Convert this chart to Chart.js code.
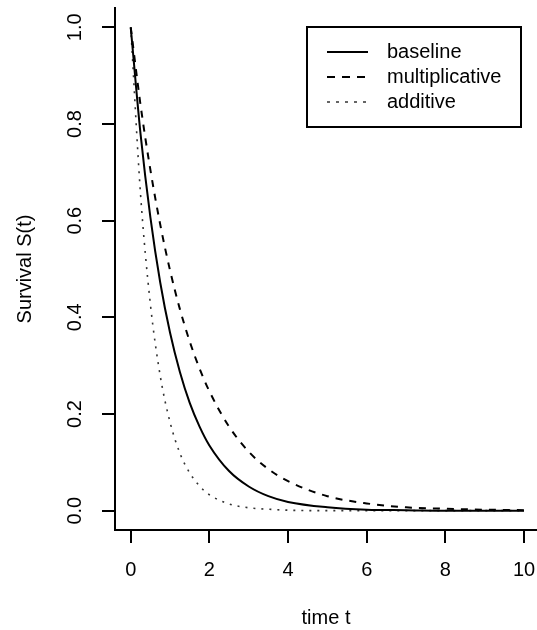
<!DOCTYPE html>
<html>
<head>
<meta charset="utf-8">
<script src="https://cdn.jsdelivr.net/npm/chart.js@4/dist/chart.umd.min.js"></script>
<style>
  html, body { margin: 0; padding: 0; background: #fff; overflow: hidden; }
  #wrap { width: 537px; height: 630px; }
</style>
</head>
<body>
<div id="wrap"><canvas id="chart"></canvas></div>
<script>
const FONT = "'Liberation Sans', Arial, sans-serif";

// time points and survival values
const timeT = [0, 0.25, 0.5, 0.75, 1, 1.25, 1.5, 1.75, 2, 2.5, 3, 3.5, 4, 5, 6, 7, 8, 9, 10];
const baseline = [1, 0.779, 0.607, 0.472, 0.368, 0.287, 0.223, 0.174, 0.135, 0.082, 0.05, 0.03, 0.018, 0.007, 0.002, 0.001, 0, 0, 0];
const multiplicative = [1, 0.839, 0.705, 0.592, 0.497, 0.417, 0.35, 0.294, 0.247, 0.174, 0.122, 0.086, 0.061, 0.03, 0.015, 0.007, 0.004, 0.002, 0.001];
const additive = [1, 0.654, 0.427, 0.279, 0.183, 0.119, 0.078, 0.051, 0.033, 0.014, 0.006, 0.003, 0.001, 0, 0, 0, 0, 0, 0];

const xTicks = [0, 2, 4, 6, 8, 10];
const yTicks = [0, 0.2, 0.4, 0.6, 0.8, 1];
const yTickLabels = ["0.0", "0.2", "0.4", "0.6", "0.8", "1.0"];

function points(ys) {
  return timeT.map((t, i) => ({ x: t, y: ys[i] }));
}

const series = [
  { label: "baseline", data: baseline, dash: [], width: 2, color: "#000" },
  { label: "multiplicative", data: multiplicative, dash: [7, 7], width: 2, color: "#000" },
  { label: "additive", data: additive, dash: [2, 6], width: 1.6, color: "#333" },
];

// y tick labels are drawn rotated, like R does
const rotatedYLabels = {
  id: "rotatedYLabels",
  afterDraw(chart) {
    const ctx = chart.ctx;
    const y = chart.scales.y;
    ctx.save();
    ctx.fillStyle = "#000";
    ctx.font = "20px " + FONT;
    ctx.textAlign = "center";
    ctx.textBaseline = "middle";
    yTicks.forEach((v, i) => {
      ctx.save();
      ctx.translate(75, y.getPixelForValue(v));
      ctx.rotate(-Math.PI / 2);
      ctx.fillText(yTickLabels[i], 0, 0);
      ctx.restore();
    });
    ctx.restore();
  }
};

// boxed legend in the top right corner
const boxLegend = {
  id: "boxLegend",
  afterDraw(chart) {
    const ctx = chart.ctx;
    ctx.save();
    ctx.strokeStyle = "#000";
    ctx.lineWidth = 2;
    ctx.strokeRect(307, 27, 214, 100);
    ctx.font = "20px " + FONT;
    ctx.textBaseline = "middle";
    ctx.fillStyle = "#000";
    series.forEach((s, i) => {
      const yy = 52 + i * 25;
      ctx.beginPath();
      ctx.setLineDash(s.dash.length ? [s.dash[0] + 1, s.dash[1]] : []);
      ctx.lineWidth = s.width;
      ctx.strokeStyle = s.color;
      ctx.moveTo(327, yy);
      ctx.lineTo(368, yy);
      ctx.stroke();
      ctx.fillText(s.label, 387, yy);
    });
    ctx.restore();
  }
};

new Chart(document.getElementById("chart").getContext("2d"), {
  type: "line",
  data: {
    datasets: series.map(s => ({
      label: s.label,
      data: points(s.data),
      borderColor: s.color,
      borderWidth: s.width,
      borderDash: s.dash,
      pointRadius: 0,
      fill: false,
      cubicInterpolationMode: "monotone",
    }))
  },
  options: {
    responsive: true,
    maintainAspectRatio: false,
    animation: false,
    layout: { padding: { top: 8, right: 0, bottom: 0, left: 0 } },
    plugins: {
      legend: { display: false },
      tooltip: { enabled: false }
    },
    scales: {
      x: {
        type: "linear",
        min: -0.4,
        max: 10.33,
        afterBuildTicks: s => { s.ticks = xTicks.map(v => ({ value: v })); },
        afterFit: s => { s.height = 100; s.paddingLeft = 0; s.paddingRight = 0; },
        border: { display: true, color: "#000", width: 2 },
        grid: { drawOnChartArea: false, drawTicks: true, tickLength: 13, color: "#000", lineWidth: 2 },
        ticks: { color: "#000", font: { family: FONT, size: 20 }, padding: 15, maxRotation: 0 },
        title: { display: true, text: "time t", color: "#000", font: { family: FONT, size: 20 }, padding: { top: 0, bottom: 0 } }
      },
      y: {
        type: "linear",
        min: -0.04,
        max: 1.04,
        afterBuildTicks: s => { s.ticks = yTicks.map(v => ({ value: v })); },
        afterFit: s => { s.width = 115; s.paddingTop = 0; s.paddingBottom = 0; },
        border: { display: true, color: "#000", width: 2 },
        grid: { drawOnChartArea: false, drawTicks: true, tickLength: 13, color: "#000", lineWidth: 2 },
        ticks: { display: false },
        title: { display: true, text: "Survival S(t)", color: "#000", font: { family: FONT, size: 20 }, padding: { top: 13, bottom: 0 } }
      }
    }
  },
  plugins: [rotatedYLabels, boxLegend]
});
</script>
</body>
</html>
